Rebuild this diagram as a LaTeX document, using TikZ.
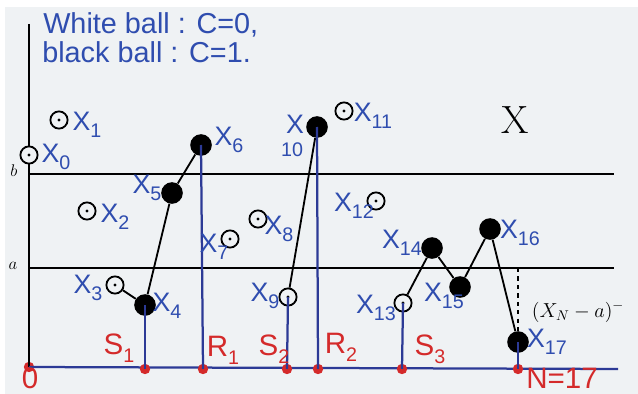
\documentclass[tikz,border=0pt]{standalone}
\usepackage{fontspec}
\newfontfamily\handfont{Liberation Sans}
\usepackage{xcolor}
\definecolor{pagebg}{HTML}{EFF2F4}
\definecolor{penblue}{HTML}{2F4DAF}
\definecolor{axisblue}{HTML}{2C3A96}
\definecolor{penred}{HTML}{D42A2A}
\newcommand{\xsub}[2]{#1\raisebox{-0.5ex}{\fontsize{14}{14}\selectfont #2}}

\begin{document}
\begin{tikzpicture}[x=0.025cm, y=-0.025cm,
    wball/.style={circle, draw=black, line width=1.3pt, fill=pagebg, inner sep=0pt, minimum size=0.43cm,
      path picture={\fill[black] (path picture bounding box.center) circle (1.1pt);}},
    bball/.style={circle, fill=black, inner sep=0pt, minimum size=0.54cm},
    link/.style={draw=black, line width=1.3pt},
    drop/.style={draw=axisblue, line width=1.6pt},
    hit/.style={circle, fill=penred, inner sep=0pt, minimum size=0.26cm},
    hand/.style={font=\handfont\fontsize{19}{21}\selectfont, text=penblue, inner sep=0pt},
    redhand/.style={hand, font=\handfont\fontsize{21}{23}\selectfont, text=penred},
    lvl/.style={draw=black, line width=1.1pt},
  ]

  % page and background
  \useasboundingbox (0,0) rectangle (638,394);
  \fill[white] (0,0) rectangle (638,394);
  \fill[pagebg] (5,7) rectangle (638,394);

  % legend
  \node[hand, font=\handfont\fontsize{20.5}{22}\selectfont, anchor=west] (legw) at (43,25) {White ball : C=0,};
  \node[hand, font=\handfont\fontsize{20.5}{22}\selectfont, anchor=west] (legb) at (42,52) {black ball : C=1.};

  % axis and levels a, b
  \coordinate (top) at (29,24);
  \coordinate (bl) at (29,174);
  \coordinate (br) at (614,174);
  \coordinate (al) at (29,268);
  \coordinate (ar) at (614,268);
  \coordinate (end) at (618,369);
  \node[hit] (o) at (29,367) {};
  \draw[lvl] (top) -- (o.center);
  \draw[lvl] (bl) -- (br);
  \draw[lvl] (al) -- (ar);
  \draw[drop] (o.center) -- (end);
  \node[font=\fontsize{12}{12}\selectfont] (lb) at (14,171) {$b$};
  \node[font=\fontsize{12}{12}\selectfont] (la) at (13,266) {$a$};
  \node[font=\fontsize{28}{30}\selectfont] (bigx) at (515,120) {X};

  % stopping times on the axis
  \foreach \n/\x in {s1/145, r1/203, s2/287, r2/318, s3/402, nn/518} {
    \node[hit] (\n) at (\x,369) {};
  }

  % balls
  \foreach \n/\x/\y in {0/29/155, 1/59/120, 2/87/211, 3/115/285, 7/230/239, 8/258/219,
                        9/288/297, 11/344/111, 12/376/201, 13/403/303} {
    \node[wball] (x\n) at (\x,\y) {};
  }
  \foreach \n/\x/\y in {4/145/305, 5/172/193, 6/201/145, 10/317/127, 14/432/248,
                        15/460/287, 16/490/229, 17/518/342} {
    \node[bball] (x\n) at (\x,\y) {};
  }

  % path segments
  \foreach \a/\b in {3/4, 4/5, 5/6, 9/10, 13/14, 14/15, 15/16, 16/17} {
    \draw[link] (x\a) -- (x\b);
  }
  \coordinate (da) at (518,268);
  \draw[dashed, line width=1pt] (da) -- (x17);
  \node[font=\fontsize{14}{14}\selectfont] (neg) at (578,312) {$(X_N-a)^-$};

  % drops to the axis
  \foreach \a/\b in {4/s1, 6/r1, 9/s2, 10/r2, 13/s3, 17/nn} {
    \draw[drop] (x\a.center) -- (\b.center);
  }

  % ball labels
  \foreach \n/\x/\y in {0/56/157, 1/87/125, 2/115/217, 3/88/288, 4/167/306, 5/147/188,
                        6/229/140, 7/214/247, 8/279/229, 9/265/296, 11/373/116,
                        12/354/206, 13/376/308, 14/402/243, 15/444/296, 16/520/233, 17/547/342} {
    \node[hand] (t\n) at (\x,\y) {\xsub{X}{\n}};
  }
  \node[hand, align=center] (t10) at (295,136) {X\\[-5pt]\hspace*{-4pt}{\fontsize{14}{14}\selectfont 10}};

  % red labels
  \node[redhand] (to) at (30,378) {0};
  \node[redhand] (ts1) at (119,348) {\xsub{S}{1}};
  \node[redhand] (tr1) at (223,350) {\xsub{R}{1}};
  \node[redhand] (ts2) at (274,349) {\xsub{S}{2}};
  \node[redhand] (tr2) at (341,347) {\xsub{R}{2}};
  \node[redhand] (ts3) at (430,349) {\xsub{S}{3}};
  \node[redhand] (tn) at (562,378) {N=17};
\end{tikzpicture}
\end{document}
